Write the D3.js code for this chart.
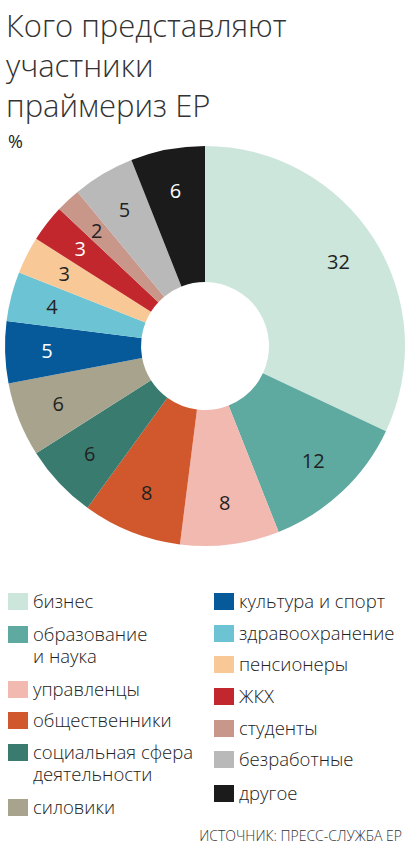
<!DOCTYPE html>
<html><head><meta charset="utf-8">
<script src="https://cdn.jsdelivr.net/npm/d3@7"></script>
<style>body{margin:0;background:#fff;font-family:"Open Sans",sans-serif;}</style>
</head><body>
<svg id="c" width="412" height="852"></svg>
<script>
const categories=["бизнес","образование и наука","управленцы","общественники","социальная сфера деятельности","силовики","культура и спорт","здравоохранение","пенсионеры","ЖКХ","студенты","безработные","другое"];
const values=[32,12,8,8,6,6,5,4,3,3,2,5,6];
const colors=["#cce6dc","#5ea9a0","#f2b9b0","#d0582c","#3a7b70","#a7a38c","#075a9a","#6cc3d3","#f8c996","#c1272d","#c9968a","#b9b9b9","#1b1b1b"];
const legendLeft=[["бизнес"],["образование","и наука"],["управленцы"],["общественники"],["социальная сфера","деятельности"],["силовики"]];
const legendRight=[["культура и спорт"],["здравоохранение"],["пенсионеры"],["ЖКХ"],["студенты"],["безработные"],["другое"]];
const svg=d3.select("#c");
const title=["Кого представляют","участники","праймериз ЕР"];
svg.selectAll("text.t").data(title).join("text").attr("x",6).attr("y",(d,i)=>37+i*40)
 .attr("font-size",31).attr("font-weight",300).attr("fill","#333").text(d=>d);
svg.append("text").attr("x",8).attr("y",148).attr("font-size",18).attr("fill","#222").text("%");
const cx=205,cy=346,R=200,r=64;
const pie=d3.pie().sort(null).value(d=>d)(values);
const arc=d3.arc().innerRadius(r).outerRadius(R);
const g=svg.append("g").attr("transform",`translate(${cx},${cy})`);
g.selectAll("path").data(pie).join("path").attr("d",arc).attr("fill",(d,i)=>colors[i]);
const la=d3.arc().innerRadius(R-42).outerRadius(R-42);
g.selectAll("text").data(pie).join("text").attr("transform",d=>`translate(${la.centroid(d)})`)
 .attr("text-anchor","middle").attr("dy","0.36em").attr("font-size",20).attr("font-weight",500)
 .attr("fill",(d,i)=>[6,9,12].includes(i)?"#fff":"#222").text(d=>d.data);
function legend(items,x,ys,colIdx){
 items.forEach((lines,i)=>{
  svg.append("rect").attr("x",x).attr("y",ys[i]-15).attr("width",20).attr("height",17).attr("fill",colors[colIdx+i]);
  lines.forEach((l,j)=>svg.append("text").attr("x",x+25).attr("y",ys[i]+j*22).attr("font-size",18.5).attr("font-weight",300).attr("fill","#222").text(l));
 });
}
legend(legendLeft,8,[608,641,696,727,759,814],0);
legend(legendRight,214,[608,640,671,703,735,766,800],6);
svg.append("text").attr("x",402).attr("y",841).attr("text-anchor","end").attr("font-size",14).attr("font-weight",300).attr("fill","#333").text("ИСТОЧНИК: ПРЕСС-СЛУЖБА ЕР");
</script></body></html>
